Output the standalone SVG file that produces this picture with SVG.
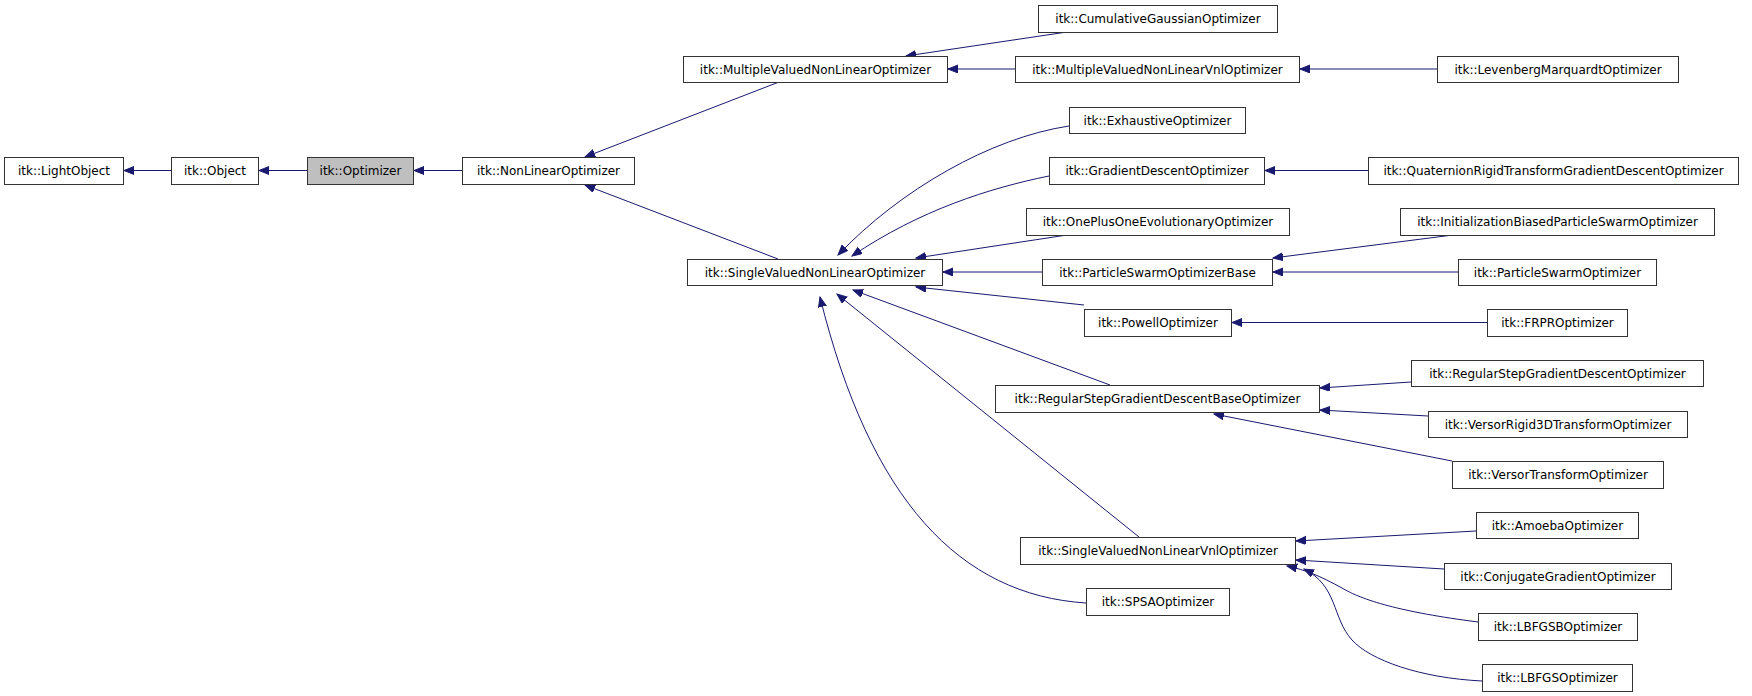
<svg xmlns="http://www.w3.org/2000/svg" width="1752" height="696" viewBox="0 0 1752 696">
<style>
.n rect{fill:#fff;stroke:#333;stroke-width:1}
.n text{font-family:"DejaVu Sans",sans-serif;font-size:12px;fill:#000;text-anchor:middle;dominant-baseline:central}
#edges path{fill:none;stroke:#191970;stroke-width:1;marker-end:url(#ah)}
</style>
<defs>
<marker id="ah" markerUnits="userSpaceOnUse" markerWidth="12" markerHeight="9" refX="10" refY="4" orient="auto">
<path d="M0,0 L10,4 L0,8 z" fill="#191970" stroke="#191970" stroke-width="1"/>
</marker>
</defs>
<rect width="1752" height="696" fill="#fff"/>
<g id="edges">
<path d="M171,170.5 H124"/>
<path d="M307,170.5 H259"/>
<path d="M462,170.5 H414"/>
<path d="M779,82 L585,157"/>
<path d="M778,259 L585,185"/>
<path d="M1067,32 L906,56"/>
<path d="M1015,69 H948"/>
<path d="M1437,69 H1300"/>
<path d="M1069,126 C990,138 900,190 838,255"/>
<path d="M1049,176 C990,188 920,210 852,256"/>
<path d="M1067,235 L916,258"/>
<path d="M1368,170.5 H1265"/>
<path d="M1042,272 H943"/>
<path d="M1084,305 L916,287"/>
<path d="M1110,385 L853,290"/>
<path d="M1139,537 L837,294"/>
<path d="M1086,603 C960,595 870,500 820,297"/>
<path d="M1453,235 L1273,258"/>
<path d="M1458,272 H1273"/>
<path d="M1487,322.5 H1232"/>
<path d="M1411,382 L1320,388"/>
<path d="M1428,416 L1320,410"/>
<path d="M1452,461 L1214,414"/>
<path d="M1476,531 L1296,541"/>
<path d="M1444,569 L1296,560"/>
<path d="M1478,622 C1400,612 1362,600 1342,588 C1320,576 1306,570 1287,566"/>
<path d="M1482,681 C1420,678 1370,660 1352,640 C1332,618 1338,586 1304,569"/>
</g>
<g id="n_lightobject" class="n"><rect x="4.5" y="157.5" width="119" height="27"/><text x="64" y="171">itk::LightObject</text></g>
<g id="n_object" class="n"><rect x="171.5" y="157.5" width="87" height="27"/><text x="215" y="171">itk::Object</text></g>
<g id="n_optimizer" class="n"><rect x="307.5" y="157.5" width="106" height="27" style="fill:#bfbfbf"/><text x="360.5" y="171">itk::Optimizer</text></g>
<g id="n_nonlinear" class="n"><rect x="462.5" y="157.5" width="172" height="27"/><text x="548.5" y="171">itk::NonLinearOptimizer</text></g>
<g id="n_cumgauss" class="n"><rect x="1038.5" y="5.5" width="239" height="27"/><text x="1158" y="19">itk::CumulativeGaussianOptimizer</text></g>
<g id="n_mvnlo" class="n"><rect x="683.5" y="56.5" width="264" height="26"/><text x="815.5" y="69.5">itk::MultipleValuedNonLinearOptimizer</text></g>
<g id="n_mvnlvnl" class="n"><rect x="1015.5" y="56.5" width="284" height="26"/><text x="1157.5" y="69.5">itk::MultipleValuedNonLinearVnlOptimizer</text></g>
<g id="n_levenberg" class="n"><rect x="1437.5" y="56.5" width="241" height="26"/><text x="1558" y="69.5">itk::LevenbergMarquardtOptimizer</text></g>
<g id="n_exhaustive" class="n"><rect x="1069.5" y="107.5" width="176" height="26"/><text x="1157.5" y="120.5">itk::ExhaustiveOptimizer</text></g>
<g id="n_graddesc" class="n"><rect x="1049.5" y="157.5" width="215" height="27"/><text x="1157" y="171">itk::GradientDescentOptimizer</text></g>
<g id="n_quaternion" class="n"><rect x="1368.5" y="157.5" width="370" height="27"/><text x="1553.5" y="171">itk::QuaternionRigidTransformGradientDescentOptimizer</text></g>
<g id="n_oneplusone" class="n"><rect x="1026.5" y="208.5" width="263" height="27"/><text x="1158" y="222">itk::OnePlusOneEvolutionaryOptimizer</text></g>
<g id="n_initbiased" class="n"><rect x="1400.5" y="208.5" width="314" height="27"/><text x="1557.5" y="222">itk::InitializationBiasedParticleSwarmOptimizer</text></g>
<g id="n_svnlo" class="n"><rect x="687.5" y="259.5" width="255" height="26"/><text x="815" y="272.5">itk::SingleValuedNonLinearOptimizer</text></g>
<g id="n_psbase" class="n"><rect x="1042.5" y="259.5" width="230" height="26"/><text x="1157.5" y="272.5">itk::ParticleSwarmOptimizerBase</text></g>
<g id="n_ps" class="n"><rect x="1458.5" y="259.5" width="198" height="26"/><text x="1557.5" y="272.5">itk::ParticleSwarmOptimizer</text></g>
<g id="n_powell" class="n"><rect x="1084.5" y="309.5" width="147" height="27"/><text x="1158" y="323">itk::PowellOptimizer</text></g>
<g id="n_frpr" class="n"><rect x="1487.5" y="309.5" width="140" height="27"/><text x="1557.5" y="323">itk::FRPROptimizer</text></g>
<g id="n_rsgd" class="n"><rect x="1411.5" y="360.5" width="292" height="26"/><text x="1557.5" y="373.5">itk::RegularStepGradientDescentOptimizer</text></g>
<g id="n_rsgdbase" class="n"><rect x="995.5" y="385.5" width="324" height="27"/><text x="1157.5" y="399">itk::RegularStepGradientDescentBaseOptimizer</text></g>
<g id="n_versorrigid" class="n"><rect x="1428.5" y="411.5" width="259" height="26"/><text x="1558" y="424.5">itk::VersorRigid3DTransformOptimizer</text></g>
<g id="n_versortrans" class="n"><rect x="1452.5" y="461.5" width="211" height="27"/><text x="1558" y="475">itk::VersorTransformOptimizer</text></g>
<g id="n_amoeba" class="n"><rect x="1476.5" y="512.5" width="162" height="26"/><text x="1557.5" y="525.5">itk::AmoebaOptimizer</text></g>
<g id="n_svnlvnl" class="n"><rect x="1020.5" y="537.5" width="275" height="27"/><text x="1158" y="551">itk::SingleValuedNonLinearVnlOptimizer</text></g>
<g id="n_conjugate" class="n"><rect x="1444.5" y="563.5" width="227" height="26"/><text x="1558" y="576.5">itk::ConjugateGradientOptimizer</text></g>
<g id="n_spsa" class="n"><rect x="1086.5" y="588.5" width="143" height="27"/><text x="1158" y="602">itk::SPSAOptimizer</text></g>
<g id="n_lbfgsb" class="n"><rect x="1478.5" y="613.5" width="159" height="27"/><text x="1558" y="627">itk::LBFGSBOptimizer</text></g>
<g id="n_lbfgs" class="n"><rect x="1482.5" y="664.5" width="150" height="27"/><text x="1557.5" y="678">itk::LBFGSOptimizer</text></g>
</svg>
